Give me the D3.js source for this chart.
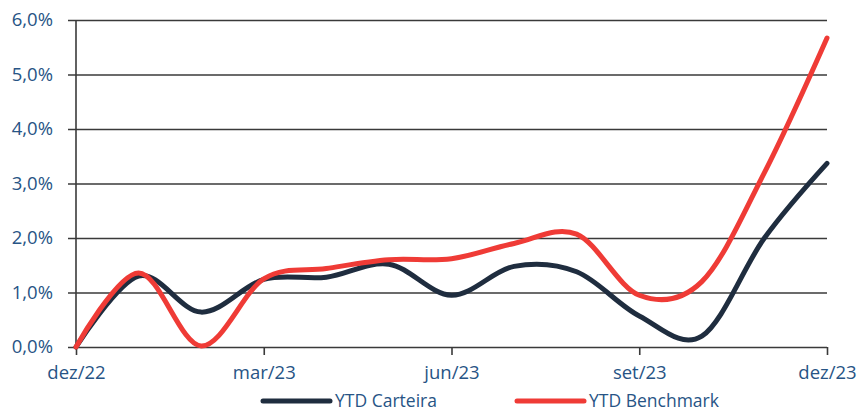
<!DOCTYPE html>
<html>
<head>
<meta charset="utf-8">
<script src="https://cdn.jsdelivr.net/npm/d3@7"></script>
<style>
  body { margin: 0; background: #fff; }
  svg { display: block; }
</style>
</head>
<body>
<div id="chart"></div>
<script>
// monthly YTD values (%)
const months = ["dez/22", "jan/23", "fev/23", "mar/23", "abr/23", "mai/23", "jun/23",
                "jul/23", "ago/23", "set/23", "out/23", "nov/23", "dez/23"];
const carteira = [0, 1.30, 0.64, 1.24, 1.28, 1.52, 0.95, 1.48, 1.38, 0.57, 0.20, 2.00, 3.37];
const benchmark = [0, 1.36, 0.02, 1.25, 1.44, 1.60, 1.62, 1.90, 2.07, 0.95, 1.20, 3.20, 5.67];
const yTicks = [0, 1, 2, 3, 4, 5, 6];
const xTickIdx = [0, 3, 6, 9, 12];
const seriesNames = ["YTD Carteira", "YTD Benchmark"];

const width = 860, height = 412;
const colors = ["#1f2d3f", "#ef3b36"];
const textColor = "#275485";

const svg = d3.select("#chart").append("svg")
    .attr("width", width)
    .attr("height", height);

const x = d3.scaleLinear().domain([0, months.length - 1]).range([76, 827]);
const y = d3.scaleLinear().domain([0, 6]).range([347, 20]);

// gridlines + y labels
const yAxis = d3.axisLeft(y)
    .tickValues(yTicks)
    .tickSize(-(827 - 68))
    .tickPadding(15)
    .tickFormat(d => d3.format(".1f")(d).replace(".", ",") + "%");

const gy = svg.append("g")
    .attr("transform", "translate(68,0)")
    .call(yAxis);
gy.select(".domain").remove();
gy.selectAll("line").attr("stroke", "#3a3a3a").attr("stroke-width", 1.6);
gy.selectAll("text")
    .attr("fill", textColor)
    .style("font-family", "'Open Sans', sans-serif")
    .style("font-size", "18.5px");

// vertical axis line
svg.append("line")
    .attr("x1", 76).attr("x2", 76)
    .attr("y1", y(6)).attr("y2", y(0))
    .attr("stroke", "#3a3a3a").attr("stroke-width", 1.6);

// x ticks
const xAxis = d3.axisBottom(x)
    .tickValues(xTickIdx)
    .tickSize(8)
    .tickPadding(11)
    .tickFormat(i => months[i]);

const gx = svg.append("g")
    .attr("transform", `translate(0,${y(0)})`)
    .call(xAxis);
gx.select(".domain").remove();
gx.selectAll("line").attr("stroke", "#3a3a3a").attr("stroke-width", 1.6);
gx.selectAll("text")
    .attr("fill", textColor)
    .style("font-family", "'Open Sans', sans-serif")
    .style("font-size", "18.5px");

// lines
const line = d3.line()
    .x((d, i) => x(i))
    .y(d => y(d))
    .curve(d3.curveCardinal.tension(0));

[carteira, benchmark].forEach((s, k) => {
    svg.append("path")
        .datum(s)
        .attr("d", line)
        .attr("fill", "none")
        .attr("stroke", colors[k])
        .attr("stroke-width", 5)
        .attr("stroke-linecap", "round")
        .attr("stroke-linejoin", "round");
});

// legend
const legendX = [263, 517];
seriesNames.forEach((name, k) => {
    const g = svg.append("g").attr("transform", `translate(${legendX[k]},401)`);
    g.append("line")
        .attr("x1", 0).attr("x2", 67)
        .attr("stroke", colors[k])
        .attr("stroke-width", 5)
        .attr("stroke-linecap", "round");
    g.append("text")
        .attr("x", 72)
        .attr("dy", "0.33em")
        .attr("fill", textColor)
        .style("font-family", "'Open Sans', sans-serif")
        .style("font-size", "17.5px")
        .text(name);
});
</script>
</body>
</html>
